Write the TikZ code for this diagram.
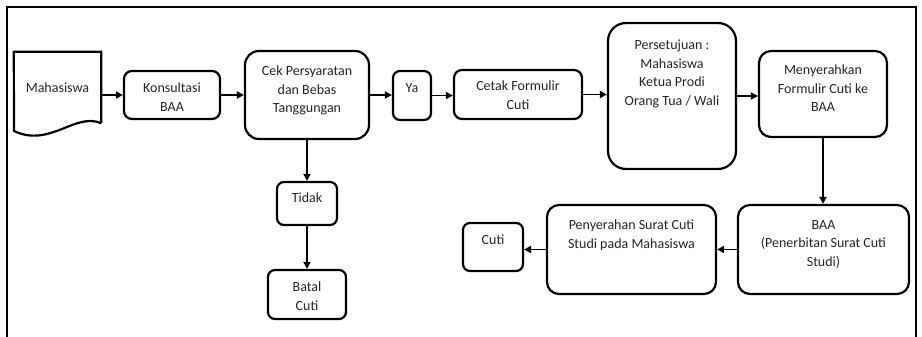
\documentclass[tikz,border=0pt]{standalone}
\usepackage{fontspec}
\setmainfont{Carlito}
\usetikzlibrary{arrows.meta}

\tikzset{
  box/.style={draw=black, line width=2.2pt, rounded corners=#1, inner sep=0pt, fill=white},
  box/.default=8pt,
  txt/.style={anchor=north, inner sep=0pt, align=center, text=black!85,
              font=\fontsize{14}{18.5}\selectfont},
  arr/.style={line width=1.8pt, -{Triangle[length=7pt,width=7pt]}},
  frame/.style={line width=1.8pt}
}

\begin{document}
\begin{tikzpicture}[x=1pt, y=-1pt]
  \useasboundingbox (0,0) rectangle (922,337);

  % outer frame, open at the bottom
  \draw[frame] (7,337) -- (7,7) -- (916,7) -- (916,337);

  % starting document
  \node[minimum width=87pt, minimum height=71pt, inner sep=0pt,
        font=\fontsize{14}{18.5}\selectfont, text=black!85] (mah) at (57.5,87.5) {Mahasiswa};
  \draw[line width=2.2pt, line join=miter]
    (mah.south east) -- (mah.north east) -- (mah.north west) -- (14,131)
    .. controls (50,148) and (75,112) .. (mah.south east);

  % process boxes
  \node[box=8pt,  minimum width=96pt,  minimum height=48pt]  (kons)  at (172,95) {};
  \node[box=14pt, minimum width=124pt, minimum height=88pt]  (cek)   at (307,95) {};
  \node[box=7pt,  minimum width=38pt,  minimum height=49pt]  (ya)    at (412,95.5) {};
  \node[box=8pt,  minimum width=128pt, minimum height=49pt]  (cetak) at (518,94.5) {};
  \node[box=18pt, minimum width=128pt, minimum height=146pt] (per)   at (672,96) {};
  \node[box=12pt, minimum width=128pt, minimum height=86pt]  (men)   at (823,94) {};
  \node[box=7pt,  minimum width=60pt,  minimum height=43pt]  (tidak) at (307,203.5) {};
  \node[box=7pt,  minimum width=78pt,  minimum height=49pt]  (batal) at (307,294.5) {};
  \node[box=7pt,  minimum width=60pt,  minimum height=48pt]  (cuti)  at (493,247) {};
  \node[box=12pt, minimum width=169pt, minimum height=89pt]  (peny)  at (631.5,249.5) {};
  \node[box=12pt, minimum width=171pt, minimum height=89pt]  (baa)   at (823.5,249.5) {};

  % box texts
  \node[txt] (t-kons)  at (172,83)   {Konsultasi\\BAA};
  \node[txt] (t-cek)   at (307,66)   {Cek Persyaratan\\dan Bebas\\Tanggungan};
  \node[txt] (t-ya)    at (412,83)   {Ya};
  \node[txt] (t-cetak) at (518,81)   {Cetak Formulir\\Cuti};
  \node[txt] (t-per)   at (672,40)   {Persetujuan :\\Mahasiswa\\Ketua Prodi\\Orang Tua / Wali};
  \node[txt] (t-men)   at (823,65)   {Menyerahkan\\Formulir Cuti ke\\BAA};
  \node[txt] (t-tidak) at (307,193)  {Tidak};
  \node[txt] (t-batal) at (307,282)  {Batal\\Cuti};
  \node[txt] (t-cuti)  at (493,235)  {Cuti};
  \node[txt] (t-peny)  at (631.5,220) {Penyerahan Surat Cuti\\Studi pada Mahasiswa};
  \node[txt] (t-baa)   at (823.5,220) {BAA\\(Penerbitan Surat Cuti\\Studi)};

  % connectors
  \draw[arr] (mah.east |- kons.west) -- (kons.west);
  \draw[arr] (kons.east) -- (kons.east -| cek.west);
  \draw[arr] (cek.east) -- (cek.east -| ya.west);
  \draw[arr] (ya.east) -- (ya.east -| cetak.west);
  \draw[arr] (cetak.east) -- (cetak.east -| per.west);
  \draw[arr] (per.east) -- (per.east -| men.west);
  \draw[arr] (cek.south) -- (tidak.north);
  \draw[arr] (tidak.south) -- (batal.north);
  \draw[arr] (men.south) -- (men.south |- baa.north);
  \draw[arr] (baa.west) -- (baa.west -| peny.east);
  \draw[arr] (peny.west) -- (peny.west -| cuti.east);
\end{tikzpicture}
\end{document}
